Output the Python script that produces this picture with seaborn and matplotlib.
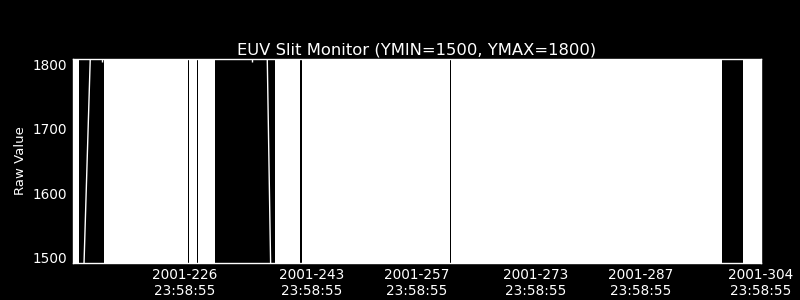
import matplotlib
matplotlib.use("Agg")
import matplotlib.pyplot as plt
import seaborn as sns
import pandas as pd
from matplotlib.ticker import FixedLocator, MultipleLocator

# ---- data (day-of-year 2001) ----
# intervals where the densely sampled slit-monitor signal fills the panel
coverage_start = [212.06, 216.30, 227.61, 228.82, 239.10, 242.75, 262.62, 301.68]
coverage_end   = [212.94, 227.42, 228.62, 231.08, 242.45, 262.47, 298.87, 304.10]

# drift traces crossing data gaps
drift1_x = [213.57, 214.41]
drift1_y = [1490, 1810]
drift2_x = [238.52, 238.07]
drift2_y = [1490, 1810]

tick_days = [226, 243, 257, 273, 287, 304]
tick_labels = ["2001-226\n23:58:55", "2001-243\n23:58:55", "2001-257\n23:58:55",
               "2001-273\n23:58:55", "2001-287\n23:58:55", "2001-304\n23:58:55"]
minor_days = [216, 226, 236, 246, 256, 266, 276, 286, 296]

title = "EUV Slit Monitor (YMIN=1500, YMAX=1800)"
ylabel = "Raw Value"

# ---- style ----
sns.set_theme(style="dark", rc={
    "figure.facecolor": "black", "axes.facecolor": "black",
    "axes.edgecolor": "white", "text.color": "white",
    "xtick.color": "white", "ytick.color": "white",
    "axes.labelcolor": "white", "axes.grid": False,
})
plt.rcParams["font.family"] = ["DejaVu Sans"]

fig = plt.figure(figsize=(8, 3), dpi=100)
L, R, T, B = 72.7, 761.0, 59.0, 263.0
ax = fig.add_axes([L / 800, 1 - B / 300, (R - L) / 800, (B - T) / 300])
ax.set_facecolor("black")

for s, e in zip(coverage_start, coverage_end):
    ax.axvspan(s, e, color="white", lw=0, zorder=1)

d1 = pd.DataFrame({"day": drift1_x, "value": drift1_y})
d2 = pd.DataFrame({"day": drift2_x, "value": drift2_y})
sns.lineplot(data=d1, x="day", y="value", color="white", lw=1.0, ax=ax, zorder=2)
sns.lineplot(data=d2, x="day", y="value", color="white", lw=1.0, ax=ax, zorder=2)

ax.set_xlim(212.06, 304.08)
ax.set_ylim(1491.8, 1808.2)

ax.xaxis.set_major_locator(FixedLocator([d + 0.999 for d in tick_days[:-1]] + [304.0]))
ax.set_xticklabels(tick_labels)
ax.xaxis.set_minor_locator(FixedLocator(minor_days))
ax.yaxis.set_major_locator(FixedLocator([1500, 1600, 1700, 1800]))
ax.yaxis.set_minor_locator(MultipleLocator(10))

ax.tick_params(axis="both", which="both", direction="in", colors="white",
               top=True, right=True, zorder=3)
ax.tick_params(axis="x", which="major", length=9.5, width=1, pad=3.5, labelsize=9.8)
ax.tick_params(axis="x", which="minor", length=2.2, width=1)
ax.tick_params(axis="y", which="major", length=9.5, width=1, pad=4, labelsize=9.8)
ax.tick_params(axis="y", which="minor", length=5, width=1)
for lab in ax.get_xticklabels():
    lab.set_linespacing(1.15)

for sp in ax.spines.values():
    sp.set_color("white")
    sp.set_linewidth(1)
    sp.set_zorder(4)

ax.set_xlabel("")
ax.set_ylabel(ylabel, fontsize=9.5)
ax.yaxis.set_label_coords(-0.066, 0.5)
ax.set_title(title, fontsize=11.8, color="white", pad=3)

fig.savefig("out.png", dpi=100, facecolor="black")
